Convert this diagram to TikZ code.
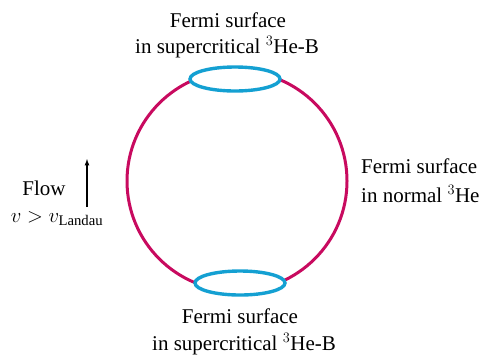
\documentclass[tikz,border=0pt]{standalone}
\usepackage{fontspec}
\setmainfont{Liberation Serif}
\definecolor{fermimag}{RGB}{200,10,95}
\definecolor{fermiblue}{RGB}{20,160,210}
\tikzset{
  lbl/.style={anchor=base, font=\fontsize{21}{24}\selectfont, inner sep=0pt},
}
\begin{document}
\begin{tikzpicture}[x=1pt,y=-1pt]
	\useasboundingbox (0,0) rectangle (486,354);
	
	% Fermi sphere of the normal liquid
	\draw[fermimag, line width=3pt] (237,181) circle (110);
	
	% Gapped patches
	\draw[fermiblue, line width=3.4pt, fill=white] (235,79) ellipse (45 and 12);
	\draw[fermiblue, line width=3.4pt, fill=white] (240,283) ellipse (45 and 12);
	
	% Labels
	\node[lbl] (topA) at (228,27) {Fermi surface};
	\node[lbl] (topB) at (227,53) {in supercritical $^3$He-B};
	\node[lbl] (botA) at (240,323) {Fermi surface};
	\node[lbl] (botB) at (244,350) {in supercritical $^3$He-B};
	\node[lbl, anchor=base west] (rgtA) at (361,173) {Fermi surface};
	\node[lbl, anchor=base west] (rgtB) at (361,202) {in normal $^3$He};
	
	% Flow
	\node[lbl] (flow) at (44,195) {Flow};
	\node[lbl] (vel) at (57,222) {$v > v_{\mathrm{Landau}}$};
	\coordinate (flowS) at (87,207);
	\coordinate (flowE) at (87,159);
	\draw[line width=1.2pt, -latex] (flowS) -- (flowE);
	
\end{tikzpicture}
\end{document}
